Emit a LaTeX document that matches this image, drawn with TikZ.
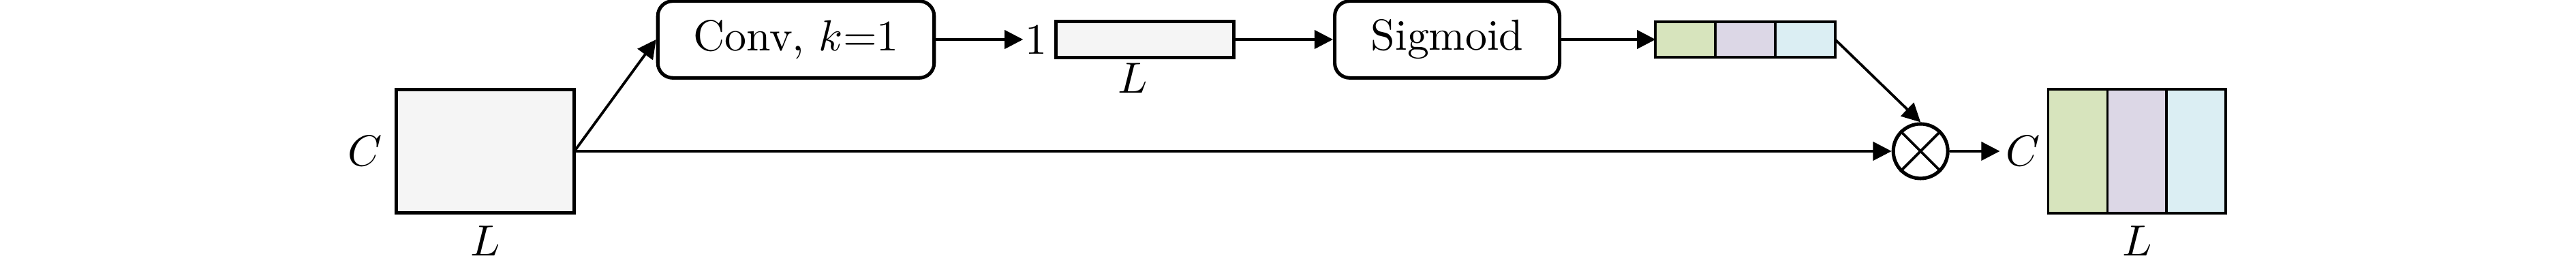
\documentclass[tikz,border=0pt]{standalone}
\usepackage{xcolor}
\definecolor{cFeat}{HTML}{F5F5F5}
\definecolor{cGreen}{HTML}{D7E4BD}
\definecolor{cPurple}{HTML}{DCD7E6}
\definecolor{cBlue}{HTML}{DBEEF3}
\usepackage{tikz}
\usetikzlibrary{positioning,arrows.meta}
\tikzset{
  node-op/.style={draw,thick,rounded corners=1.2mm,minimum height=6.2mm,
    align=center,inner sep=0pt},
  node-feat/.style={draw,thick,fill=cFeat,inner sep=0pt,outer sep=0pt},
  node-cell/.style={draw,semithick,inner sep=0pt,outer sep=0pt},
  node-mul/.style={draw,thick,circle,minimum size=4.4mm,inner sep=0pt},
  arrow/.style={-{Triangle[length=1.5mm,width=1.5mm]},semithick},
}

\begin{document}
\begin{tikzpicture}[node distance=8mm and 8mm]
  \useasboundingbox (0,0) rectangle (207.9mm,21.56mm);
  % input feature map
  \node[node-feat,minimum width=14.4mm,minimum height=10mm,
    label={[label distance=-0.1mm]left:$C$},
    label={[label distance=-0.2mm]below:$L$}] (feat) at (39.16mm,9.35mm) {};
  % attention branch
  \node[node-op,minimum width=22.3mm] (conv) at (64.24mm,18.37mm) {Conv, $k$=1};
  \node[node-feat,minimum width=14.35mm,minimum height=2.9mm,right=9.7mm of conv,
    label={[label distance=-0.8mm,xshift=-1mm]below:$L$}] (vec) {};
  \node[inner sep=0.3pt,left=0.55mm of vec] (vone) {1};
  \node[node-op,minimum width=18.15mm,right=8mm of vec] (sig) {Sigmoid};
  \node[node-cell,fill=cGreen,minimum width=4.83mm,minimum height=2.9mm,
    right=7.6mm of sig] (w1) {};
  \node[node-cell,fill=cPurple,minimum width=4.83mm,minimum height=2.9mm,
    right=0mm of w1] (w2) {};
  \node[node-cell,fill=cBlue,minimum width=4.83mm,minimum height=2.9mm,
    right=0mm of w2] (w3) {};
  % reweighting
  \node[node-mul] (mul) at (155mm,9.35mm) {};
  \draw[semithick] (mul.north west) -- (mul.south east)
    (mul.north east) -- (mul.south west);
  % output feature map
  \node[node-cell,fill=cGreen,minimum width=4.78mm,minimum height=10mm] (o1)
    at (167.69mm,9.35mm) {};
  \node[node-cell,fill=cPurple,minimum width=4.78mm,minimum height=10mm,
    right=0mm of o1,label={[label distance=-0.2mm]below:$L$}] (o2) {};
  \node[node-cell,fill=cBlue,minimum width=4.78mm,minimum height=10mm,
    right=0mm of o2] (o3) {};
  \node[inner sep=0.4mm,left=0.2mm of o1] (cout) {$C$};

  \draw[arrow] (feat.east) -- (conv.west);
  \draw[arrow] (conv) -- (vone);
  \draw[arrow] (vec) -- (sig);
  \draw[arrow] (sig) -- (w1);
  \draw[arrow] (w3.east) -- (mul.north);
  \draw[arrow] (feat.east) -- (mul.west);
  \draw[arrow] (mul.east) -- (cout.west);
\end{tikzpicture}
\end{document}
